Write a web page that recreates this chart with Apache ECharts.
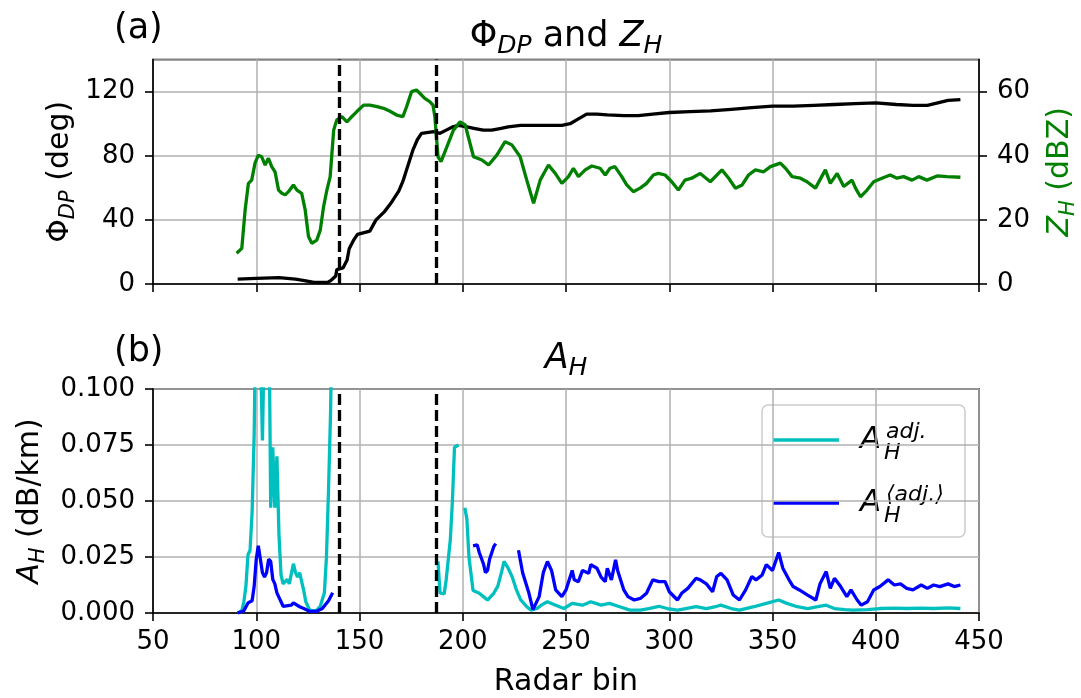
<!DOCTYPE html>
<html>
<head>
<meta charset="utf-8">
<script src="https://cdn.jsdelivr.net/npm/echarts/dist/echarts.min.js"></script>
<style>
  html, body { margin: 0; padding: 0; background: #fff; }
  #chart { width: 1081px; height: 698px; }
</style>
</head>
<body>
<div id="chart"></div>
<script>
// Radar bins where the melting layer starts and ends
const boundaries = [140, 187];

// Differential phase Phi_DP (deg) along the ray, [bin, value]
const phiDP = [
  [91,3],[100,3.5],[111,4],[119,3],[124,2],[128,1],[134.5,1],[136,2],[138.5,5],[139,9],[142,10],
  [144,15],[145,22],[147,27],[149,31],[155,33],[158,40],[162,45],[165,50],[169,58],[171,64],
  [173,72],[176,84],[178,90],[180,94],[186,95],[189,94],[192,96],[195,98],[198,99],[202,98],
  [206,97],[210,96],[214,96],[218,97],[222,98],[228,99],[235,99],[242,99],[248,99],[252,100],
  [256,103],[260,106],[265,106],[270,105.5],[278,105],[285,105],[292,106],[300,107],[310,107.5],
  [320,108],[330,109],[340,110],[350,111],[360,111],[370,111.5],[380,112],[390,112.5],[400,113],
  [410,112],[418,111.5],[425,111.5],[430,113],[435,114.5],[441,115]
];

// Reflectivity Z_H (dBZ), [bin, value]
const zH = [
  [90.5,9.6],[93,11.1],[94.6,23],[96.2,31.4],[97.8,32.4],[99.4,37.7],[101,40.2],[102.6,39.7],
  [104.3,37.1],[105.9,39.2],[107.5,36.6],[109.1,35],[110.8,29.3],[112.4,28.3],[114,27.8],
  [115.6,28.8],[118,30.9],[119.7,29.3],[122,28.3],[123.7,23.1],[125.3,14.8],[126.9,12.7],
  [129.3,13.7],[131,16.8],[132.6,24.1],[134.2,29.3],[135.8,33.5],[137.5,48],[139,51.2],
  [141.5,52.2],[143.9,50.6],[145.5,51.7],[148.7,53.8],[152,55.8],[155,55.8],[158.5,55.3],
  [161.7,54.8],[165,53.8],[168,52.7],[171,52.2],[172.8,55.3],[175.2,60],[177.6,60.5],
  [179.2,59.5],[181.6,57.9],[184,56.9],[185.6,55.8],[186.5,52.2],[188,39.7],[189.5,38.2],
  [192.3,42.8],[195.5,48],[198.7,50.6],[201.2,49.6],[205.2,39.7],[209.3,38.7],[212.5,37.1],
  [216.5,40.2],[220.5,44.4],[223.8,43.4],[227.8,39.7],[231,32.4],[234.3,25.2],[237.5,32.4],
  [241.5,37.1],[244.8,34.5],[248,31.4],[251.2,33.5],[253.6,36.1],[256,33.5],[259.3,35.6],
  [262.5,36.8],[266.5,36.1],[269,34],[271.3,36.1],[273.7,36.6],[277,33.5],[279.4,30.9],
  [282.6,28.8],[285.9,29.9],[289,31.4],[292.3,34],[294.7,34.5],[298,34],[301.2,31.9],
  [304.4,29.3],[307.6,32.4],[310.9,33],[315,34.5],[319.9,31.9],[325.5,35.6],[328.8,33],
  [332,29.9],[335.3,30.9],[338.4,34],[341.7,35.6],[345.7,35],[349,36.6],[353.8,37.7],
  [356.3,36.1],[359.5,33.5],[363.5,33],[366.7,31.9],[370.8,29.9],[375.6,35.6],[378,31.4],
  [381.3,34.5],[384.5,30.4],[388.5,32.4],[390.2,29.9],[392.6,27.2],[395.8,29.3],[399,31.9],
  [403,33],[407,34],[410.3,33],[413.5,33.5],[417.6,32.4],[420.8,33.5],[424.8,32.4],
  [429.7,33.7],[434.5,33.5],[441,33.3]
];

// Specific attenuation A_H^adj. (dB/km), [bin, value]; null = no estimate
const aHadj = [
  [91,0],[93,0.001],[94,0.005],[95,0.012],[96,0.026],[97,0.028],[98,0.045],[99,0.08],
  [100,0.15],[101,0.2],[102,0.12],[103,0.077],[104,0.13],[105,0.2],[106,0.15],[107,0.047],
  [108,0.074],[109,0.047],[110,0.07],[111,0.035],[112,0.017],[113,0.013],[115,0.015],
  [116,0.013],[118,0.022],[119,0.018],[120,0.016],[121,0.018],[123,0.010],[124,0.005],
  [126,0.001],[129,0.001],[131,0.003],[133,0.009],[134,0.025],[135,0.055],[136,0.09],
  [137,0.15],[162,null],
  [188,0.023],[189,0.009],[191,0.0085],[192,0.015],[194,0.033],[195,0.05],[196,0.074],
  [198,0.075],[199.5,null],[201,0.047],[202,0.042],[203,0.025],[205,0.010],[208,0.0088],
  [210,0.0073],[212,0.0058],[215,0.0088],[217,0.012],[219,0.019],[220,0.023],[222,0.02],
  [224,0.016],[226,0.0103],[228,0.006],[231,0.0028],[233,0.0013],[236,0.002],[238,0.0035],
  [241,0.005],[245,0.0035],[249,0.002],[253,0.0043],[258,0.0035],[262,0.005],[267,0.0035],
  [271,0.0043],[276,0.0028],[281,0.0013],[286,0.0013],[290,0.002],[295,0.003],[299,0.002],
  [304,0.0013],[308,0.002],[313,0.0028],[318,0.002],[323,0.003],[325,0.0035],[330,0.002],
  [334,0.0013],[341,0.0028],[347,0.0043],[353,0.0058],[357,0.0043],[362,0.0028],[367,0.002],
  [372,0.0028],[376,0.0035],[380,0.002],[385,0.0015],[389,0.0013],[396,0.0015],[402,0.002],
  [409,0.0022],[415,0.002],[422,0.0022],[428,0.002],[435,0.0023],[441,0.002]
];

// Range-averaged attenuation A_H^<adj.> (dB/km), [bin, value]; null = no estimate
const aHavg = [
  [91,0],[94,0.001],[96,0.0045],[98,0.0055],[99,0.012],[100,0.024],[101,0.03],[102,0.024],
  [103,0.018],[104,0.016],[105,0.018],[106,0.024],[107,0.023],[108,0.015],[109,0.013],
  [110,0.009],[112,0.005],[113,0.003],[117,0.0035],[118,0.0045],[121,0.0028],[123,0.002],
  [126,0.0007],[129,0.0007],[132,0.002],[135,0.0055],[137,0.009],[170,null],
  [205,0.03],[207,0.0304],[208,0.027],[210,0.022],[211,0.018],[212,0.019],[213,0.024],
  [215,0.0296],[216,0.031],[221,null],[227,0.028],[229,0.018],[232,0.009],[234,0.0015],
  [237,0.0073],[239,0.018],[241,0.023],[243,0.019],[245,0.0103],[248,0.0073],[250,0.0103],
  [253,0.019],[254,0.0148],[256,0.014],[258,0.019],[261,0.0177],[262,0.0216],[265,0.02],
  [267,0.016],[269,0.014],[270,0.02],[272,0.0148],[274,0.0237],[275,0.019],[278,0.0103],
  [280,0.0073],[283,0.0058],[286,0.0065],[289,0.0088],[292,0.0148],[295,0.014],[298,0.014],
  [300,0.0095],[304,0.0058],[306,0.0088],[309,0.011],[313,0.0155],[315,0.0148],[318,0.013],
  [321,0.0095],[323,0.0163],[325,0.0177],[328,0.0148],[331,0.008],[334,0.0058],[337,0.0103],
  [340,0.0163],[342,0.0148],[345,0.017],[347,0.0216],[350,0.019],[353,0.027],[355,0.02],
  [358,0.0148],[360,0.0118],[363,0.0103],[367,0.008],[371,0.0058],[373,0.013],[376,0.0185],
  [378,0.011],[380,0.0155],[383,0.0118],[386,0.0073],[388,0.0103],[391,0.0058],[393,0.0035],
  [396,0.005],[399,0.0103],[402,0.0118],[406,0.0148],[409,0.0125],[412,0.013],[415,0.011],
  [418,0.0103],[422,0.0125],[425,0.011],[428,0.0125],[431,0.0118],[435,0.013],[438,0.0118],
  [441,0.0125]
];

const FONT = 'DejaVu Sans';
const TICK_SIZE = 26;
const NAME_SIZE = 30;
const GREEN = '#008000', CYAN = '#00bfbf', BLUE = '#0000ff';
const LW = 3.3;

// rich styles: r = upright, i = italic, s = italic subscript
function richSet(size, color) {
  const sub = Math.round(size * 0.7);
  return {
    r: { fontFamily: FONT, fontSize: size, color: color, lineHeight: size + 8 },
    i: { fontFamily: FONT, fontSize: size, fontStyle: 'italic', color: color, lineHeight: size + 8 },
    s: { fontFamily: FONT, fontSize: sub, fontStyle: 'italic', color: color,
         lineHeight: Math.round(size * 0.55), verticalAlign: 'bottom' }
  };
}

const grids = [
  { left: 153, right: 102, top: 59.6, height: 224.4 },
  { left: 153, right: 102, top: 389, height: 224 }
];

function xAxisFor(gridIndex, labelled) {
  return {
    type: 'value', gridIndex: gridIndex, min: 50, max: 450, interval: 50,
    axisLine: { show: true, lineStyle: { color: '#000', width: 1.6 } },
    axisTick: { show: true, length: 8, lineStyle: { color: '#000', width: 1.6 } },
    axisLabel: { show: labelled, color: '#000', fontFamily: FONT, fontSize: TICK_SIZE, margin: 16 },
    splitLine: { show: true, lineStyle: { color: '#b0b0b0', width: 1.5 } },
    name: labelled ? 'Radar bin' : '',
    nameLocation: 'middle', nameGap: 54, nameMoveOverlap: false,
    nameTextStyle: { fontFamily: FONT, fontSize: NAME_SIZE, color: '#000' }
  };
}

const yCommon = {
  type: 'value',
  axisLine: { show: true, lineStyle: { color: '#000', width: 1.6 } },
  axisTick: { show: true, length: 8, lineStyle: { color: '#000', width: 1.6 } },
  nameLocation: 'middle', nameRotate: 90, nameMoveOverlap: false
};

const vlines = {
  silent: true, symbol: 'none', animation: false,
  label: { show: false },
  lineStyle: { color: '#000', type: [11, 5], width: LW },
  data: boundaries.map(b => ({ xAxis: b }))
};

const option = {
  animation: false,
  backgroundColor: '#fff',
  grid: grids.map(g => Object.assign({ show: true, borderColor: '#000', borderWidth: 1.6,
    backgroundColor: 'transparent', containLabel: false, outerBoundsMode: 'none' }, g)),
  xAxis: [xAxisFor(0, false), xAxisFor(1, true)],
  yAxis: [
    Object.assign({}, yCommon, {
      gridIndex: 0, position: 'left', min: 0, max: 140, interval: 40,
      axisLabel: { color: '#000', fontFamily: FONT, fontSize: TICK_SIZE, margin: 18, showMaxLabel: false },
      splitLine: { show: true, lineStyle: { color: '#b0b0b0', width: 1.5 } },
      name: '{r|Φ}{s|DP}{r| (deg)}', nameGap: 74,
      nameTextStyle: { rich: richSet(NAME_SIZE, '#000') }
    }),
    Object.assign({}, yCommon, {
      gridIndex: 0, position: 'right', min: 0, max: 70, interval: 20,
      axisLabel: { color: '#000', fontFamily: FONT, fontSize: TICK_SIZE, margin: 18, showMaxLabel: false },
      splitLine: { show: false },
      name: '{i|Z}{s|H}{r| (dBZ)}', nameGap: 62,
      nameTextStyle: { rich: richSet(NAME_SIZE, GREEN) }
    }),
    Object.assign({}, yCommon, {
      gridIndex: 1, position: 'left', min: 0, max: 0.1, interval: 0.025,
      axisLabel: { color: '#000', fontFamily: FONT, fontSize: TICK_SIZE, margin: 18,
                   formatter: v => v.toFixed(3) },
      splitLine: { show: true, lineStyle: { color: '#b0b0b0', width: 1.5 } },
      name: '{i|A}{s|H}{r| (dB/km)}', nameGap: 104,
      nameTextStyle: { rich: richSet(NAME_SIZE, '#000') }
    })
  ],
  series: [
    { type: 'line', xAxisIndex: 0, yAxisIndex: 0, data: phiDP, showSymbol: false,
      lineStyle: { color: '#000', width: LW }, itemStyle: { color: '#000' }, markLine: vlines },
    { type: 'line', xAxisIndex: 0, yAxisIndex: 1, data: zH, showSymbol: false,
      lineStyle: { color: GREEN, width: LW }, itemStyle: { color: GREEN } },
    { type: 'line', xAxisIndex: 1, yAxisIndex: 2, data: aHadj, showSymbol: false,
      connectNulls: false, lineStyle: { color: CYAN, width: LW }, itemStyle: { color: CYAN },
      markLine: vlines },
    { type: 'line', xAxisIndex: 1, yAxisIndex: 2, data: aHavg, showSymbol: false,
      connectNulls: false, lineStyle: { color: BLUE, width: LW }, itemStyle: { color: BLUE } }
  ]
};

// Panel labels, titles and the legend of panel (b)
const TITLE_SIZE = 35;
const plotCenter = 153 + (1081 - 153 - 102) / 2;
const legendRows = [
  { y: 440, color: CYAN, sup: 'adj.' },
  { y: 503, color: BLUE, sup: '⟨adj.⟩' }
];
const legendItems = [];
legendRows.forEach(row => {
  legendItems.push(
    { type: 'line', shape: { x1: 773, y1: row.y, x2: 839, y2: row.y },
      style: { stroke: row.color, lineWidth: LW } },
    { type: 'text', x: 860, y: row.y, style: { text: 'A', fontFamily: FONT, fontSize: 31,
      fontStyle: 'italic', fill: '#000', align: 'left', verticalAlign: 'middle' } },
    { type: 'text', x: 886, y: row.y - 8, style: { text: row.sup, fontFamily: FONT, fontSize: 22,
      fontStyle: 'italic', fill: '#000', align: 'left', verticalAlign: 'middle' } },
    { type: 'text', x: 884, y: row.y + 13, style: { text: 'H', fontFamily: FONT, fontSize: 22,
      fontStyle: 'italic', fill: '#000', align: 'left', verticalAlign: 'middle' } }
  );
});

option.graphic = [
  { type: 'text', x: 114, y: 29, style: { text: '(a)', fontFamily: FONT, fontSize: TITLE_SIZE,
    fill: '#000', align: 'left', verticalAlign: 'middle' } },
  { type: 'text', x: plotCenter, y: 37, style: { text: '{r|Φ}{s|DP}{r| and }{i|Z}{s|H}',
    rich: richSet(TITLE_SIZE, '#000'), align: 'center', verticalAlign: 'middle' } },
  { type: 'text', x: 114, y: 352, style: { text: '(b)', fontFamily: FONT, fontSize: TITLE_SIZE,
    fill: '#000', align: 'left', verticalAlign: 'middle' } },
  { type: 'text', x: plotCenter, y: 359, style: { text: '{i|A}{s|H}',
    rich: richSet(TITLE_SIZE, '#000'), align: 'center', verticalAlign: 'middle' } },
  { type: 'group', z: 100, children: [
    { type: 'rect', shape: { x: 762, y: 405, width: 203, height: 132, r: 6 },
      style: { fill: 'rgba(255,255,255,0.8)', stroke: '#cccccc', lineWidth: 1.5 } }
  ].concat(legendItems) }
];

const chart = echarts.init(document.getElementById('chart'), null, { renderer: 'canvas' });
chart.setOption(option);
</script>
</body>
</html>
